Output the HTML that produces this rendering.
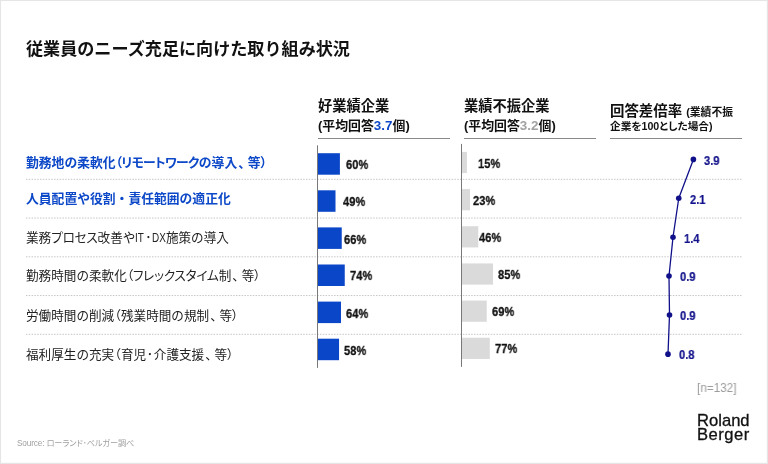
<!DOCTYPE html>
<html lang="ja">
<head>
<meta charset="utf-8">
<title>従業員のニーズ充足に向けた取り組み状況</title>
<style>
*{margin:0;padding:0;box-sizing:border-box;}
html,body{width:768px;height:464px;overflow:hidden;background:#fff;}
body{position:relative;font-family:"Liberation Sans","Noto Sans CJK JP",sans-serif;color:#111;}
.abs{position:absolute;white-space:nowrap;line-height:1;will-change:transform;}
.jp{font-family:"Liberation Sans","Noto Sans CJK JP",sans-serif;font-feature-settings:"palt" 1;}
.k{font-feature-settings:"palt" 1;letter-spacing:-.65px;}
.c{font-feature-settings:"palt" 1;margin-left:1.2px;margin-right:2.9px;}
.lbl:not(.hi) .k{letter-spacing:-.2px;}
.p{font-feature-settings:"palt" 1;margin-left:.2px;margin-right:.3px;}
.d{font-feature-settings:"palt" 1;margin:0 -.1px 0 .4px;}
.lat{display:inline-block;font-size:13.4px;line-height:12.6px;transform:scaleX(.74);transform-origin:0 50%;vertical-align:baseline;}
.title{left:26px;top:41px;font-size:17.1px;font-weight:700;color:#111;font-feature-settings:normal;}
.h1{font-size:14.25px;font-weight:700;color:#111;}
.h2{font-size:12.9px;font-weight:700;color:#111;}
.h3{font-size:10.8px;font-weight:700;color:#111;}
.uline{position:absolute;height:1px;background:#8a8a8a;top:138px;}
.lbl{left:26px;font-size:12.6px;color:#222;font-weight:400;font-feature-settings:normal;}
.lbl.hi{color:#0c48c8;font-weight:700;font-size:12.8px;}
.pct{font-size:13px;font-weight:700;color:#111;-webkit-text-stroke:.3px #111;transform:scaleX(.855);transform-origin:0 50%;}
.rat{font-size:13px;font-weight:700;color:#10108a;-webkit-text-stroke:.2px #10108a;transform:scaleX(.86);transform-origin:0 50%;}
.src{left:17.3px;top:439.5px;font-size:8.2px;color:#a0a0a0;letter-spacing:-.12px;}
.n{left:696.8px;top:382.2px;font-size:12.3px;color:#9c9c9c;transform:scaleX(.955);transform-origin:0 50%;}
.logo{left:697px;font-size:16.6px;color:#111;letter-spacing:0px;-webkit-text-stroke:.3px #111;}
</style>
</head>
<body>
<svg class="abs" style="left:0;top:0;" width="768" height="464" viewBox="0 0 768 464"><g fill="#e5e5e5"><rect x="0" y="0" width="768" height="1"/><rect x="0" y="0" width="1.05" height="464"/><rect x="766.8" y="0" width="1.2" height="464"/><rect x="0" y="462.8" width="768" height="1.2"/></g></svg>
<div class="abs jp title">従業員のニーズ充足に向けた取り組み状況</div>

<div class="abs jp h1" style="left:318px;top:99.4px;">好業績企業</div>
<div class="abs jp h2" style="left:318px;top:119px;">(平均回答<span style="color:#0c48c8;font-size:1.04em">3.7</span>個)</div>
<div class="uline" style="left:318px;width:132px;"></div>
<div class="abs jp h1" style="left:464px;top:99.4px;">業績不振企業</div>
<div class="abs jp h2" style="left:464px;top:119px;">(平均回答<span style="color:#a2a2a2;font-size:1.04em">3.2</span>個)</div>
<div class="uline" style="left:464px;width:132px;"></div>
<div class="abs jp h1" style="left:610px;top:103.75px;font-size:14.45px;">回答差倍率 <span class="h3">(業績不振</span></div>
<div class="abs jp h3" style="left:610px;top:120.75px;font-size:10.65px;">企業を100とした場合)</div>
<div class="uline" style="left:610px;width:132px;"></div>

<svg class="abs" style="left:0;top:0;" width="768" height="464" viewBox="0 0 768 464"><line x1="26" y1="179.3" x2="742" y2="179.3" stroke="#c6c6c6" stroke-width="1" stroke-dasharray="1.5 1.3"/><line x1="26" y1="218.05" x2="742" y2="218.05" stroke="#c6c6c6" stroke-width="1" stroke-dasharray="1.5 1.3"/><line x1="26" y1="256.8" x2="742" y2="256.8" stroke="#c6c6c6" stroke-width="1" stroke-dasharray="1.5 1.3"/><line x1="26" y1="295.55" x2="742" y2="295.55" stroke="#c6c6c6" stroke-width="1" stroke-dasharray="1.5 1.3"/><line x1="26" y1="334.3" x2="742" y2="334.3" stroke="#c6c6c6" stroke-width="1" stroke-dasharray="1.5 1.3"/><rect x="318" y="153.20" width="21.90" height="21.5" fill="#0a46c8"/><rect x="318" y="190.30" width="17.50" height="21.5" fill="#0a46c8"/><rect x="318" y="227.40" width="23.75" height="21.5" fill="#0a46c8"/><rect x="318" y="264.50" width="26.75" height="21.5" fill="#0a46c8"/><rect x="318" y="301.60" width="23.00" height="21.5" fill="#0a46c8"/><rect x="318" y="338.70" width="21.05" height="21.5" fill="#0a46c8"/><rect x="462" y="151.90" width="4.90" height="21.2" fill="#dadada"/><rect x="462" y="189.07" width="8.00" height="21.2" fill="#dadada"/><rect x="462" y="226.24" width="16.25" height="21.2" fill="#dadada"/><rect x="462" y="263.41" width="31.00" height="21.2" fill="#dadada"/><rect x="462" y="300.58" width="24.75" height="21.2" fill="#dadada"/><rect x="462" y="337.75" width="27.80" height="21.2" fill="#dadada"/><rect x="317" y="145.3" width="1" height="222.6" fill="#787878"/><rect x="461" y="143.9" width="1" height="223" fill="#787878"/></svg>
<div class="abs jp lbl hi" style="top:156.5px;">勤務地の柔軟化<span class="k">（リモートワーク</span>の導入<span class="c">、</span>等<span class="k">）</span></div>
<div class="abs jp lbl hi" style="top:193px;">人員配置や役割・責任範囲の適正化</div>
<div class="abs jp lbl " style="top:232px;">業務<span class="k">プロセス</span>改善や<span class="lat" style="width:9.6px">IT</span><span class="d">･</span><span class="lat" style="width:14.4px">DX</span>施策の導入</div>
<div class="abs jp lbl " style="top:270.3px;">勤務時間の柔軟化<span class="k">（フレックスタイム</span>制<span class="c">、</span>等<span class="k">）</span></div>
<div class="abs jp lbl " style="top:309.6px;">労働時間の削減<span class="p">（</span>残業時間の規制<span class="c">、</span>等<span class="k">）</span></div>
<div class="abs jp lbl " style="top:348.6px;">福利厚生の充実<span class="p">（</span>育児<span class="d" style="margin:0 .7px 0 .7px">･</span>介護支援<span class="c">、</span>等<span class="k">）</span></div>
<div class="abs pct" style="left:346.00px;top:158.00px;">60%</div>
<div class="abs pct" style="left:342.50px;top:195.25px;">49%</div>
<div class="abs pct" style="left:344.00px;top:232.75px;">66%</div>
<div class="abs pct" style="left:350.00px;top:269.25px;">74%</div>
<div class="abs pct" style="left:346.25px;top:306.75px;">64%</div>
<div class="abs pct" style="left:344.25px;top:344.00px;">58%</div>
<div class="abs pct" style="left:478.00px;top:156.75px;">15%</div>
<div class="abs pct" style="left:473.00px;top:194.25px;">23%</div>
<div class="abs pct" style="left:478.75px;top:231.00px;">46%</div>
<div class="abs pct" style="left:497.50px;top:268.25px;">85%</div>
<div class="abs pct" style="left:491.75px;top:305.25px;">69%</div>
<div class="abs pct" style="left:494.75px;top:342.25px;">77%</div>
<svg class="abs" style="left:0;top:0;" width="768" height="464" viewBox="0 0 768 464"><polyline points="693.4,159.4 678.75,198.25 673,237.25 669,276 669.5,315 668,354.15" fill="none" stroke="#10108a" stroke-width="1.3" stroke-linejoin="round"/><g fill="#10108a"><circle cx="693.4" cy="159.4" r="2.8"/><circle cx="678.75" cy="198.25" r="2.8"/><circle cx="673" cy="237.25" r="2.8"/><circle cx="669" cy="276" r="2.8"/><circle cx="669.5" cy="315" r="2.8"/><circle cx="668" cy="354.15" r="2.8"/></g></svg>
<div class="abs rat" style="left:704.00px;top:154.00px;">3.9</div>
<div class="abs rat" style="left:690.00px;top:193.00px;">2.1</div>
<div class="abs rat" style="left:684.25px;top:232.00px;">1.4</div>
<div class="abs rat" style="left:679.50px;top:270.00px;">0.9</div>
<div class="abs rat" style="left:680.00px;top:309.00px;">0.9</div>
<div class="abs rat" style="left:678.50px;top:348.00px;">0.8</div>
<div class="abs n">[n=132]</div>
<div class="abs logo" style="top:412.7px;">Roland</div>
<div class="abs logo" style="top:427.2px;letter-spacing:.5px;">Berger</div>
<div class="abs jp src">Source: ローランド･ベルガー調べ</div>
</body>
</html>
